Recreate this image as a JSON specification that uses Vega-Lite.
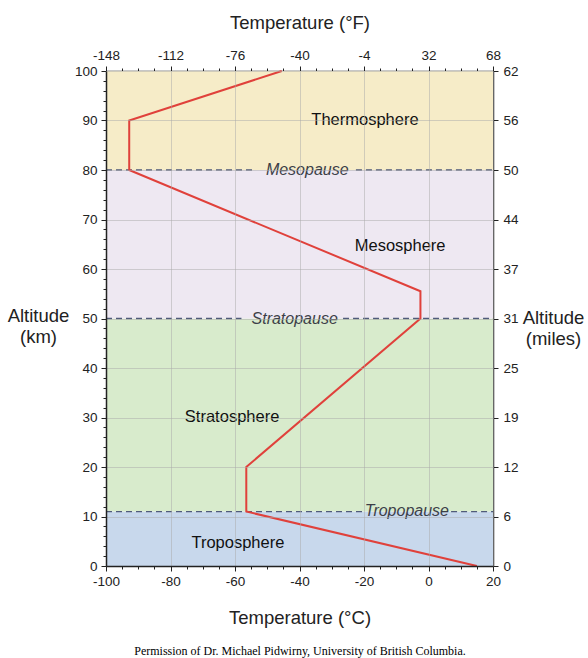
{
  "$schema": "https://vega.github.io/schema/vega-lite/v6.json",
  "autosize": "none",
  "width": 387,
  "height": 495,
  "padding": {"left": 106, "top": 71, "right": 95, "bottom": 92},
  "background": "white",
  "view": {"stroke": null},
  "config": {
    "axis": {"labelFont": "Liberation Sans", "titleFont": "Liberation Sans", "labelFontSize": 13.5, "titleFontSize": 18.5, "titleFontWeight": "normal", "labelColor": "#222", "titleColor": "#222", "tickColor": "#222", "domainColor": "#222", "labelFlush": false},
    "text": {"font": "Liberation Sans"}
  },
  "resolve": {"axis": {"x": "independent", "y": "independent"}},
  "layer": [
    {
      "data": {"values": [
        {"layer": "Troposphere", "lo": 0, "hi": 11},
        {"layer": "Stratosphere", "lo": 11, "hi": 50},
        {"layer": "Mesosphere", "lo": 50, "hi": 80},
        {"layer": "Thermosphere", "lo": 80, "hi": 100}
      ]},
      "mark": {"type": "rect"},
      "encoding": {
        "x": {"datum": -100, "type": "quantitative", "scale": {"domain": [-100, 20], "nice": false},
          "axis": {"orient": "bottom", "values": [-100, -80, -60, -40, -20, 0, 20], "labelExpr": "'' + datum.value", "grid": true, "gridColor": "#aaa", "gridOpacity": 0.5, "tickSize": 5, "labelPadding": 3, "domainWidth": 1.5, "zindex": 1,
            "title": "Temperature (°C)", "titleY": 51, "titleBaseline": "middle"}},
        "x2": {"datum": 20},
        "y": {"field": "lo", "type": "quantitative", "scale": {"domain": [0, 100], "nice": false},
          "axis": {"orient": "left", "values": [0, 10, 20, 30, 40, 50, 60, 70, 80, 90, 100], "grid": true, "gridColor": "#aaa", "gridOpacity": 0.5, "tickSize": 5, "labelPadding": 4, "domainWidth": 1.5, "zindex": 1,
            "title": ["Altitude", "(km)"], "titleAngle": 0, "titleX": -68, "titleY": 244, "titleAlign": "center", "titleBaseline": "middle", "titleLineHeight": 21}},
        "y2": {"field": "hi"},
        "color": {"field": "layer", "type": "nominal", "legend": null,
          "scale": {"domain": ["Troposphere", "Stratosphere", "Mesosphere", "Thermosphere"], "range": ["#c8d8ec", "#d8ebcc", "#eee8f2", "#f6ecc8"]}}
      }
    },
    {
      "data": {"values": [
        {"pause": "Tropopause", "alt": 11, "t0": -100, "t1": -20},
        {"pause": "Tropopause", "alt": 11, "t0": 7, "t1": 20},
        {"pause": "Stratopause", "alt": 50, "t0": -100, "t1": -58},
        {"pause": "Stratopause", "alt": 50, "t0": -26.5, "t1": 20},
        {"pause": "Mesopause", "alt": 80, "t0": -100, "t1": -54},
        {"pause": "Mesopause", "alt": 80, "t0": -22.5, "t1": 20}
      ]},
      "mark": {"type": "rule", "strokeDash": [6, 4], "strokeWidth": 1.3, "color": "#4f5a7a"},
      "encoding": {
        "x": {"field": "t0", "type": "quantitative", "scale": {"domain": [-100, 20], "nice": false},
          "axis": {"orient": "top", "values": [-100, -80, -60, -40, -20, 0, 20], "labelExpr": "'' + (datum.value*9/5+32)", "grid": false, "tickSize": 5, "labelPadding": 4, "domainWidth": 1.5,
            "title": "Temperature (°F)", "titleY": -49, "titleBaseline": "middle"}},
        "x2": {"field": "t1"},
        "y": {"field": "alt", "type": "quantitative", "scale": {"domain": [0, 100], "nice": false},
          "axis": {"orient": "right", "values": [0, 10, 20, 30, 40, 50, 60, 70, 80, 90, 100], "labelExpr": "['0','6','12','19','25','31','37','44','50','56','62'][round(datum.value/10)]", "grid": false, "tickSize": 5, "labelPadding": 5, "domainWidth": 1.5,
            "title": ["Altitude", "(miles)"], "titleAngle": 0, "titleX": 60, "titleY": 246, "titleAlign": "center", "titleBaseline": "middle", "titleLineHeight": 21}}
      }
    },
    {
      "data": {"values": [
        {"temp": 15, "alt": 0},
        {"temp": -56.5, "alt": 11},
        {"temp": -56.5, "alt": 20},
        {"temp": -2.5, "alt": 50},
        {"temp": -2.5, "alt": 55.5},
        {"temp": -92.8, "alt": 80},
        {"temp": -92.8, "alt": 90},
        {"temp": -45.5, "alt": 100}
      ]},
      "mark": {"type": "line", "color": "#e0413b", "strokeWidth": 2},
      "encoding": {
        "x": {"field": "temp", "type": "quantitative", "scale": {"domain": [-100, 20], "nice": false},
          "axis": {"orient": "bottom", "values": [-95, -90, -85, -75, -70, -65, -55, -50, -45, -35, -30, -25, -15, -10, -5, 5, 10, 15], "labels": false, "domain": false, "grid": false, "tickSize": 3,
            "title": "Permission of Dr. Michael Pidwirny, University of British Columbia.", "titleFont": "Liberation Serif", "titleFontSize": 12, "titleColor": "#000", "titleY": 84, "titleBaseline": "middle"}},
        "y": {"field": "alt", "type": "quantitative", "scale": {"domain": [0, 100], "nice": false},
          "axis": {"orient": "left", "values": [2, 4, 6, 8, 12, 14, 16, 18, 22, 24, 26, 28, 32, 34, 36, 38, 42, 44, 46, 48, 52, 54, 56, 58, 62, 64, 66, 68, 72, 74, 76, 78, 82, 84, 86, 88, 92, 94, 96, 98], "labels": false, "domain": false, "grid": false, "tickSize": 3, "title": null}},
        "order": {"field": "alt", "type": "quantitative"}
      }
    },
    {
      "data": {"values": [
        {"name": "Thermosphere", "temp": -19.7, "alt": 90.1},
        {"name": "Mesosphere", "temp": -8.8, "alt": 64.6},
        {"name": "Stratosphere", "temp": -60.9, "alt": 30.1},
        {"name": "Troposphere", "temp": -59.1, "alt": 4.6}
      ]},
      "mark": {"type": "text", "fontSize": 16.5, "color": "#111", "align": "center", "baseline": "middle"},
      "encoding": {
        "x": {"field": "temp", "type": "quantitative", "scale": {"domain": [-100, 20], "nice": false},
          "axis": {"orient": "top", "values": [-95, -90, -85, -75, -70, -65, -55, -50, -45, -35, -30, -25, -15, -10, -5, 5, 10, 15], "labels": false, "domain": false, "grid": false, "tickSize": 3, "title": null}},
        "y": {"field": "alt", "type": "quantitative", "scale": {"domain": [0, 100], "nice": false}, "axis": null},
        "text": {"field": "name"}
      }
    },
    {
      "data": {"values": [
        {"name": "Mesopause", "temp": -37.6, "alt": 80.1},
        {"name": "Stratopause", "temp": -41.5, "alt": 50},
        {"name": "Tropopause", "temp": -6.7, "alt": 11.1}
      ]},
      "mark": {"type": "text", "fontSize": 16, "fontStyle": "italic", "color": "#3c3f48", "align": "center", "baseline": "middle"},
      "encoding": {
        "x": {"field": "temp", "type": "quantitative", "scale": {"domain": [-100, 20], "nice": false}, "axis": null},
        "y": {"field": "alt", "type": "quantitative", "scale": {"domain": [0, 100], "nice": false}, "axis": null},
        "text": {"field": "name"}
      }
    }
  ]
}
